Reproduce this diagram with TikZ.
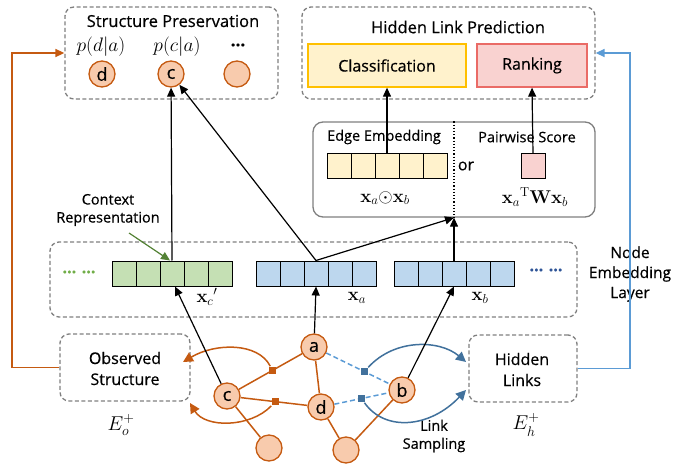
\RequirePackage{fix-cm}
\documentclass[tikz,border=0pt]{standalone}
\usepackage[no-math]{fontspec}
\setmainfont{Open Sans}[FakeBold=0.5]
\usepackage{amsmath}
\usetikzlibrary{arrows.meta}

\definecolor{orgline}{RGB}{197,90,17}
\definecolor{orgfill}{RGB}{248,203,173}
\definecolor{dgray}{RGB}{127,127,127}
\definecolor{bluearc}{RGB}{65,113,156}
\definecolor{bluedash}{RGB}{91,155,213}
\definecolor{greencell}{RGB}{197,224,180}
\definecolor{bluecell}{RGB}{189,215,238}
\definecolor{yelcell}{RGB}{255,242,204}
\definecolor{yelline}{RGB}{255,192,0}
\definecolor{pinkfill}{RGB}{249,210,208}
\definecolor{pinkline}{RGB}{234,107,102}
\definecolor{greenarrow}{RGB}{84,130,53}
\definecolor{greendot}{RGB}{112,173,71}
\definecolor{bluedot}{RGB}{47,85,151}

\tikzset{
  dbox/.style={draw=dgray, dash pattern=on 4pt off 2.5pt, line width=1.3pt, rounded corners=9pt, inner sep=0pt},
  cellbox/.style={draw=black, line width=1pt, minimum width=24pt, minimum height=25pt, inner sep=0pt},
  gnode/.style={circle, draw=orgline, fill=orgfill, line width=1.3pt, minimum size=26pt, inner sep=0pt, font=\fontsize{18}{18}\selectfont},
  arr/.style={-{Triangle[length=9pt,width=8pt]}, line width=1.2pt},
  esq/.style={fill=orgline, minimum size=7pt, inner sep=0pt},
  bsq/.style={fill=bluearc, minimum size=7pt, inner sep=0pt},
  lbl/.style={align=center, inner sep=0pt},
  ttl/.style={inner sep=0pt, font=\fontsize{16.5}{18}\selectfont},
  small/.style={font=\fontsize{14.5}{18}\selectfont},
  mth/.style={inner sep=0pt, font=\fontsize{18.5}{18}\selectfont},
}

\begin{document}
\begin{tikzpicture}[x=1pt, y=-1pt, font=\fontsize{16}{21}\selectfont]
\useasboundingbox (0,0) rectangle (674,465);

% ---- top: structure preservation ----
\node[dbox, minimum width=213pt, minimum height=92pt] (sp) at (171.5,53) {};
\node[ttl] (sptitle) at (173,21) {Structure Preservation};
\node[mth, font=\fontsize{19.5}{20}\selectfont] (pd) at (101,47) {$p(d|a)$};
\node[mth, font=\fontsize{19.5}{20}\selectfont] (pc) at (177,47) {$p(c|a)$};
\node[inner sep=0pt, font=\fontsize{17}{17}\selectfont\bfseries] (pdots) at (238,45) {...};
\node[gnode] (spd) at (102,74) {d};
\node[gnode] (spc) at (171,74) {c};
\node[gnode] (spe) at (237,74) {};

% ---- top: hidden link prediction ----
\node[dbox, minimum width=293pt, minimum height=92pt] (hlp) at (448.5,53) {};
\node[ttl] (hlptitle) at (458,27) {Hidden Link Prediction};
\node[draw=yelline, fill=yelcell, line width=1.3pt, minimum width=158pt, minimum height=43pt, inner sep=0pt] (cls) at (387,65.5) {Classification};
\node[draw=pinkline, fill=pinkfill, line width=1.3pt, minimum width=110pt, minimum height=43pt, inner sep=0pt] (rank) at (532,65.5) {Ranking};

% ---- edge embedding / pairwise score ----
\node[draw=dgray, line width=1.3pt, rounded corners=10pt, minimum width=282pt, minimum height=95pt, inner sep=0pt] (eb) at (454,169.5) {};
\draw[dotted, line width=1.2pt] (eb.north) -- (eb.south);
\node[inner sep=0pt, small] (ebt) at (384,137) {Edge Embedding};
\node[inner sep=0pt, small] (pst) at (527,137) {Pairwise Score};
\foreach \i in {0,...,4}
  \node[cellbox, fill=yelcell] (yc\i) at ({339+24*\i},166.5) {};
\node[cellbox, fill=pinkfill] (pk) at (533,166.5) {};
\node[inner sep=0pt] (ortxt) at (466,166) {or};
\node[mth] (hada) at (385,198) {$\mathbf{x}_a{\odot}\mathbf{x}_b$};
\node[mth] (bilin) at (535,197) {$\mathbf{x}_a{}^{\mathrm{T}}\mathbf{W}\mathbf{x}_b$};

% ---- node embedding layer ----
\node[dbox, minimum width=527pt, minimum height=75pt] (nel) at (313.5,279.5) {};
\foreach \i in {0,...,4} {
  \node[cellbox, fill=greencell] (gc\i) at ({124+24*\i},273.5) {};
  \node[cellbox, fill=bluecell] (ac\i) at ({268+24*\i},273.5) {};
  \node[cellbox, fill=bluecell] (bc\i) at ({406+24*\i},273.5) {};
}
\node[inner sep=0pt, text=greendot, font=\fontsize{16}{16}\selectfont\bfseries] (gdots) at (79,272) {... ...};
\node[inner sep=0pt, text=bluedot, font=\fontsize{16}{16}\selectfont\bfseries] (bdots) at (546,270) {... ...};
\node[mth] (xc) at (207,297) {$\mathbf{x}_c{}'$};
\node[mth] (xa) at (357,298) {$\mathbf{x}_a$};
\node[mth] (xb) at (480,298) {$\mathbf{x}_b$};
\node[lbl, font=\fontsize{15.5}{20}\selectfont] (nelt) at (630,274) {Node\\Embedding\\Layer};
\node[lbl, small] (ctx) at (108,210) {Context\\Representation};
\coordinate (ctxtail) at (129,233);
\draw[-{Triangle[length=9pt,width=8pt]}, line width=1.2pt, draw=greenarrow, fill=greenarrow] (ctxtail) -- ([xshift=-2pt]gc2.north);

% ---- bottom boxes ----
\node[dbox, minimum width=130pt, minimum height=67pt] (obs) at (125,367.5) {};
\node[lbl] (obst) at (125,368.5) {Observed\\Structure};
\node[dbox, minimum width=108pt, minimum height=67pt] (hl) at (523,368.5) {};
\node[lbl] (hlt) at (522,369.5) {Hidden\\Links};
\node[inner sep=0pt, font=\fontsize{20}{20}\selectfont] (eo) at (121,425) {$E_o^+$};
\node[inner sep=0pt, font=\fontsize{20}{20}\selectfont] (eh) at (526,425) {$E_h^+$};
\node[lbl, small] (ls) at (434,436) {Link\\Sampling};

% ---- graph ----
\node[gnode] (na) at (314,347) {a};
\node[gnode] (nc) at (227,396) {c};
\node[gnode] (nd) at (321,407) {d};
\node[gnode] (nb) at (402,390) {b};
\node[gnode] (nbl) at (269,448) {};
\node[gnode] (nbm) at (346,450) {};

\draw[orgline, line width=1.5pt] (nc) -- node[esq, pos=0.53] (sq1) {} (na);
\draw[orgline, line width=1.5pt] (nc) -- node[esq, pos=0.52] (sq2) {} (nd);
\draw[orgline, line width=1.5pt] (na) -- (nd);
\draw[orgline, line width=1.5pt] (nc) -- (nbl);
\draw[orgline, line width=1.5pt] (nd) -- (nbm);
\draw[orgline, line width=1.5pt] (nb) -- (nbm);
\draw[bluedash, line width=1.5pt, dash pattern=on 5pt off 3pt] (na) -- node[bsq, pos=0.6] (sq3) {} (nb);
\draw[bluedash, line width=1.5pt, dash pattern=on 5pt off 3pt] (nd) -- node[bsq, pos=0.5] (sq4) {} (nb);

% sampled edges feeding the two edge sets
\coordinate (obsin1) at (183,362);
\coordinate (obsin2) at (190,403);
\coordinate (hlin1) at (466,362);
\coordinate (hlin2) at (466,390);
\draw[orgline, line width=1.5pt, -{Triangle[length=10pt,width=10pt]}] (sq1) .. controls (258,342) and (215,343) .. (obsin1);
\draw[orgline, line width=1.5pt, -{Triangle[length=10pt,width=10pt]}] (sq2) .. controls (250,428) and (205,428) .. (obsin2);
\draw[bluearc, line width=1.5pt, -{Triangle[length=10pt,width=10pt]}] (sq3) .. controls (395,338) and (440,340) .. (hlin1);
\draw[bluearc, line width=1.5pt, -{Triangle[length=10pt,width=10pt]}] (sq4) .. controls (385,432) and (430,428) .. (hlin2);

% embeddings looked up from the graph
\draw[arr] (nc) -- ([xshift=3pt]gc2.south);
\draw[arr] (na) -- (ac2.south);
\draw[arr] (nb) -- (bc2.south);

% embeddings used by the objectives
\draw[arr] (gc2.north) -- (spc);
\draw[arr] (ac2.north) -- (spc);
\draw[arr] (ac2.north) -- (eb.south);
\draw[arr] (bc2.north) -- (eb.south);
\draw[arr] (yc2.north) -- (cls.south);
\draw[arr] (pk.north) -- (rank.south);

% feedback connectors
\draw[orgline, line width=1.5pt, -{Triangle[length=9pt,width=8pt]}] (obs.west) -- (12,367.5) |- (sp.west);
\draw[bluedash, line width=1.5pt, -{Triangle[length=9pt,width=8pt]}] (hl.east) -- (630,368.5) |- (hlp.east);
\end{tikzpicture}
\end{document}
